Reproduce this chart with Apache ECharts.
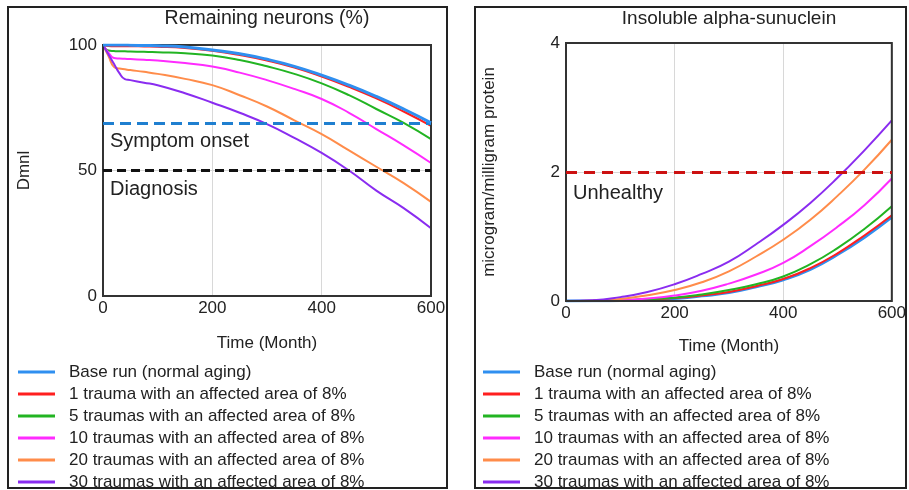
<!DOCTYPE html>
<html>
<head>
<meta charset="utf-8">
<script src="https://cdn.jsdelivr.net/npm/echarts@6/dist/echarts.min.js"></script>
<style>
  html, body { margin: 0; padding: 0; background: #fff; }
  #chart { width: 909px; height: 490px; }
</style>
</head>
<body>
<div id="chart"></div>
<script>
// Scenario names (shared by both panels)
const scenarioNames = [
  'Base run (normal aging)',
  '1 trauma with an affected area of 8%',
  '5 traumas with an affected area of 8%',
  '10 traumas with an affected area of 8%',
  '20 traumas with an affected area of 8%',
  '30 traumas with an affected area of 8%'
];
const scenarioColors = ['#2f8ff0', '#ff1f1f', '#22b422', '#ff2bff', '#ff8c4a', '#8a2cf0'];

// Remaining neurons (%), Dmnl
const neuronMonths = [0, 10, 20, 30, 40, 50, 75, 100, 150, 200, 250, 300, 350, 400, 450, 500, 550, 600];
const neuronsBase  = [100, 100, 100, 100, 100, 99.9, 99.8, 99.7, 99.2, 98, 96.5, 94.3, 91.5, 88, 84, 79.5, 74.5, 69];
const neurons1     = [100, 99.6, 99.5, 99.5, 99.5, 99.5, 99.4, 99.3, 98.8, 97.7, 96, 93.8, 91, 87.4, 83.3, 78.7, 73.5, 67.8];
const neurons5     = [100, 97.8, 97.6, 97.5, 97.5, 97.4, 97.3, 97.1, 96.7, 95.8, 94, 91.5, 88.5, 84.7, 80, 74.5, 69, 62.5];
const neurons10    = [100, 97, 94.8, 94.6, 94.5, 94.4, 94.1, 93.8, 92.8, 91.4, 89, 86, 82.5, 78.5, 73, 66.5, 60, 53];
const neurons20    = [100, 95.6, 91.3, 90.6, 90.3, 90, 89.3, 88.5, 86.5, 84, 80, 75.5, 70, 64.5, 58, 51.5, 45, 37.5];
const neurons30    = [100, 96.2, 92.5, 88.8, 86.4, 86, 85, 84, 80.8, 77, 73, 68.5, 63, 57, 50, 42, 35, 27];
const neuronSeries = [neuronsBase, neurons1, neurons5, neurons10, neurons20, neurons30];
const symptomOnset = 69;
const diagnosis = 50;

// Insoluble alpha-synuclein, microgram/milligram protein
const synMonths = [0, 50, 100, 150, 200, 250, 300, 350, 400, 450, 500, 550, 600];
const synBase = [0, 0.002, 0.008, 0.02, 0.04, 0.08, 0.13, 0.22, 0.33, 0.49, 0.72, 0.99, 1.30];
const syn1    = [0, 0.002, 0.009, 0.02, 0.045, 0.085, 0.14, 0.23, 0.34, 0.51, 0.74, 1.02, 1.33];
const syn5    = [0, 0.003, 0.01, 0.03, 0.05, 0.10, 0.17, 0.26, 0.38, 0.57, 0.82, 1.12, 1.47];
const syn10   = [0, 0.004, 0.014, 0.04, 0.085, 0.16, 0.27, 0.41, 0.59, 0.85, 1.15, 1.49, 1.90];
const syn20   = [0, 0.005, 0.03, 0.09, 0.17, 0.29, 0.46, 0.69, 0.95, 1.26, 1.63, 2.04, 2.50];
const syn30   = [0, 0.01, 0.06, 0.14, 0.26, 0.42, 0.61, 0.88, 1.18, 1.52, 1.91, 2.34, 2.80];
const synSeries = [synBase, syn1, syn5, syn10, syn20, syn30];
const unhealthy = 2;

const FONT = '"Liberation Sans", Arial, sans-serif';
const TEXT = '#222';
const FS = 17;

function pairs(xs, ys) { return xs.map((x, i) => [x, ys[i]]); }

function refLine(value, label, color, dash, offsetY) {
  return {
    silent: true,
    symbol: 'none',
    animation: false,
    lineStyle: { color: color, type: dash, width: 3 },
    label: {
      show: true,
      formatter: label,
      position: 'insideStartBottom',
      distance: [7, offsetY],
      color: TEXT,
      fontSize: 20,
      fontFamily: FONT
    },
    data: [{ yAxis: value }]
  };
}

function curve(name, color, idx, xi, xs, ys) {
  return {
    name: name,
    type: 'line',
    xAxisIndex: xi, yAxisIndex: xi,
    data: pairs(xs, ys),
    symbol: 'none',
    showSymbol: false,
    smooth: 0.5,
    lineStyle: { color: color, width: idx === 0 ? 3 : 2 },
    itemStyle: { color: color },
    z: idx === 0 ? 9 : 3
  };
}

const series = [];
neuronSeries.forEach((vals, i) => {
  series.push(curve(scenarioNames[i], scenarioColors[i], i, 0, neuronMonths, vals));
});
// reference levels on the neuron panel
series.push({
  type: 'line', xAxisIndex: 0, yAxisIndex: 0, data: [], symbol: 'none',
  markLine: refLine(symptomOnset, 'Symptom onset', '#1f7fd0', [11, 6], 9)
});
series.push({
  type: 'line', xAxisIndex: 0, yAxisIndex: 0, data: [], symbol: 'none',
  markLine: refLine(diagnosis, 'Diagnosis', '#111', [9, 5], 9)
});

synSeries.forEach((vals, i) => {
  const s = curve(scenarioNames[i], scenarioColors[i], i, 1, synMonths, vals);
  s.z = 3;
  series.push(s);
});
series.push({
  type: 'line', xAxisIndex: 1, yAxisIndex: 1, data: [], symbol: 'none',
  markLine: refLine(unhealthy, 'Unhealthy', '#cc1111', [11, 7], 11)
});

function xAxisCfg(gridIndex, gap) {
  return {
    type: 'value', gridIndex: gridIndex, min: 0, max: 600, interval: 200,
    name: 'Time (Month)', nameLocation: 'middle', nameGap: gap,
    nameTextStyle: { color: TEXT, fontSize: FS, fontFamily: FONT },
    axisLine: { show: false }, axisTick: { show: false },
    axisLabel: { color: TEXT, fontSize: FS, fontFamily: FONT, margin: 4 },
    splitLine: { show: true, lineStyle: { color: '#d8d8d8', width: 1 } }
  };
}
function yAxisCfg(gridIndex, max, interval, name, gap) {
  return {
    type: 'value', gridIndex: gridIndex, min: 0, max: max, interval: interval,
    name: name, nameLocation: 'middle', nameGap: gap, nameRotate: 90,
    nameTextStyle: { color: TEXT, fontSize: FS, fontFamily: FONT },
    axisLine: { show: false }, axisTick: { show: false },
    axisLabel: { color: TEXT, fontSize: FS, fontFamily: FONT, margin: 6 },
    splitLine: { show: true, lineStyle: { color: '#d8d8d8', width: 1 } }
  };
}

function legendCfg(left) {
  return {
    orient: 'vertical', left: left, top: 357, height: 200,
    data: scenarioNames,
    icon: 'rect',
    itemWidth: 37, itemHeight: 3, itemGap: 2,
    selectedMode: false,
    textStyle: { color: TEXT, fontSize: FS, fontFamily: FONT, lineHeight: 20, padding: [0, 0, 0, 9] }
  };
}

const option = {
  animation: false,
  backgroundColor: '#fff',
  grid: [
    { left: 103, top: 45, width: 328, height: 251, show: true, borderColor: '#333', borderWidth: 2, backgroundColor: 'transparent', z: 4 },
    { left: 566, top: 43, width: 331, height: 258, show: true, borderColor: '#333', borderWidth: 2, backgroundColor: 'transparent', z: 4 }
  ],
  xAxis: [xAxisCfg(0, 39), xAxisCfg(1, 37)],
  yAxis: [
    yAxisCfg(0, 100, 50, 'Dmnl', 70),
    yAxisCfg(1, 4, 2, 'microgram/milligram protein', 68)
  ],
  legend: [legendCfg(13), legendCfg(478)],
  graphic: [
    { type: 'rect', shape: { x: 8, y: 7, width: 439, height: 481 }, style: { fill: 'none', stroke: '#222', lineWidth: 2 }, silent: true },
    { type: 'rect', shape: { x: 475, y: 7, width: 431, height: 481 }, style: { fill: 'none', stroke: '#222', lineWidth: 2 }, silent: true },
    { type: 'text', x: 267, y: 19, style: { text: 'Remaining neurons (%)', textAlign: 'center', textVerticalAlign: 'middle', font: '19.5px ' + FONT, fill: TEXT } },
    { type: 'text', x: 729, y: 19, style: { text: 'Insoluble alpha-sunuclein', textAlign: 'center', textVerticalAlign: 'middle', font: '19px ' + FONT, fill: TEXT } }
  ],
  series: series
};

const chart = echarts.init(document.getElementById('chart'), null, { renderer: 'canvas' });
chart.setOption(option);
</script>
</body>
</html>
